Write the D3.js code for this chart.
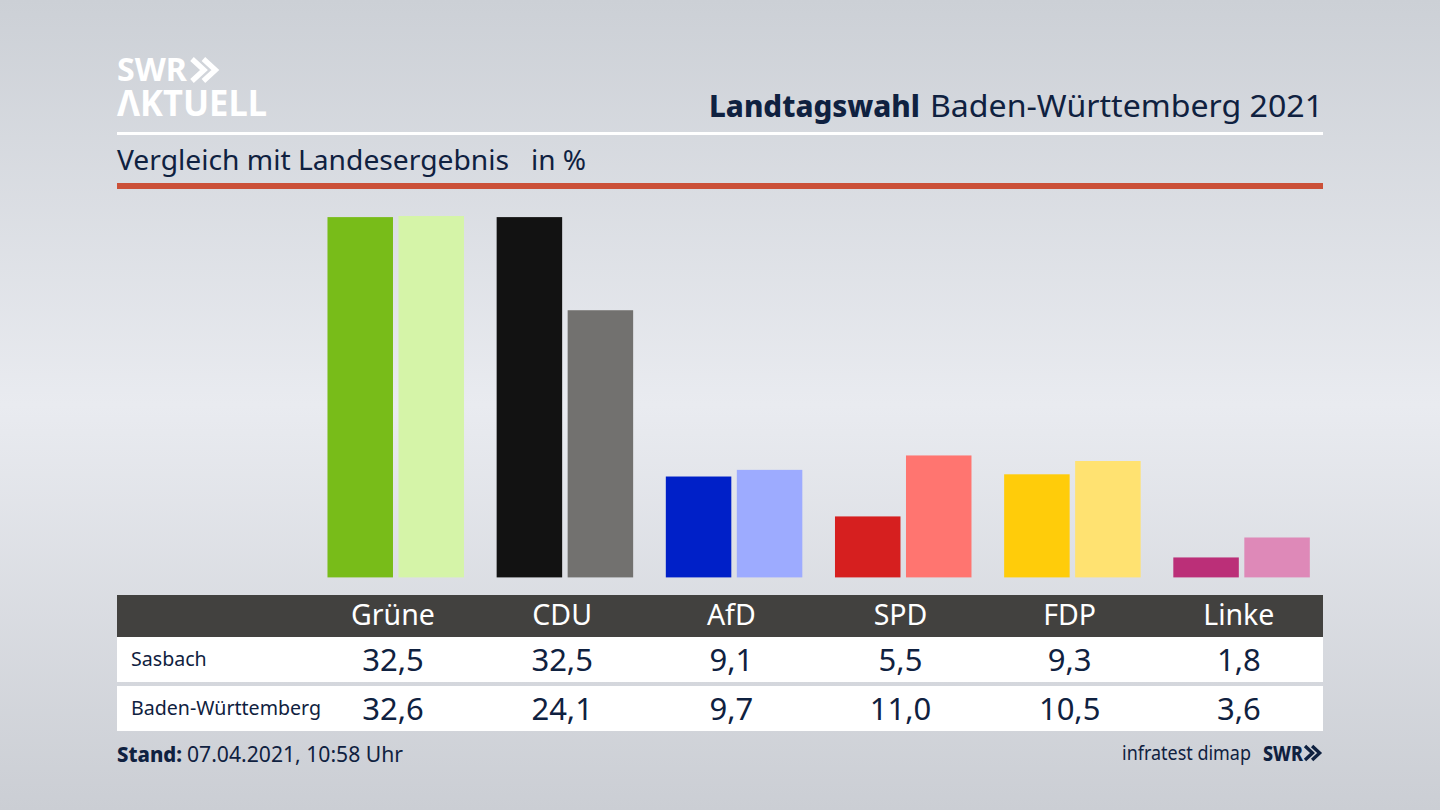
<!DOCTYPE html>
<html>
<head>
<meta charset="utf-8">
<script src="https://cdn.jsdelivr.net/npm/d3@7"></script>
<style>
  html, body { margin: 0; padding: 0; background: #d5d8de; }
  svg { display: block; }
  text { font-family: "Noto Sans", sans-serif; fill: #0f2140; }
</style>
</head>
<body>
<div id="chart"></div>
<script>
const parties = ['Grüne', 'CDU', 'AfD', 'SPD', 'FDP', 'Linke'];
const sasbach = [32.5, 32.5, 9.1, 5.5, 9.3, 1.8];
const land = [32.6, 24.1, 9.7, 11.0, 10.5, 3.6];
const rowNames = ['Sasbach', 'Baden-Württemberg'];
const darkColors = ['#78bc19', '#121212', '#0020c8', '#d61f1f', '#ffcc0a', '#bb2f78'];
const lightColors = ['#d5f4a8', '#72716f', '#9dabff', '#ff7570', '#ffe271', '#de89b8'];

const fmt = v => v.toFixed(1).replace('.', ',');

const svg = d3.select('#chart').append('svg')
  .attr('width', 1440)
  .attr('height', 810);

const grad = svg.append('defs').append('linearGradient')
  .attr('id', 'bg')
  .attr('x1', 0).attr('x2', 0).attr('y1', 0).attr('y2', 1);
grad.append('stop').attr('offset', '0%').attr('stop-color', '#ccd0d6');
grad.append('stop').attr('offset', '50%').attr('stop-color', '#e9ebf0');
grad.append('stop').attr('offset', '100%').attr('stop-color', '#cbced4');

svg.append('rect')
  .attr('width', 1440)
  .attr('height', 810)
  .attr('fill', 'url(#bg)');

// logo
svg.append('text')
  .attr('x', 117).attr('y', 81)
  .style('font-size', '33px').style('font-weight', 700)
  .style('fill', '#fff').attr('textLength', 70).attr('lengthAdjust', 'spacingAndGlyphs')
  .text('SWR');
svg.append('text')
  .attr('x', 117).attr('y', 116)
  .style('font-size', '35px').style('font-weight', 700)
  .style('fill', '#fff').attr('textLength', 150).attr('lengthAdjust', 'spacingAndGlyphs')
  .text('ΛKTUELL');

const chevrons = (x, y, w, h, color) => {
  [0, w * 0.95].forEach(dx => {
    svg.append('path')
      .attr('d', `M${x + dx},${y} L${x + dx + w},${y + h / 2} L${x + dx},${y + h}`)
      .attr('fill', 'none')
      .attr('stroke', color)
      .attr('stroke-width', h * 0.24);
  });
};
chevrons(192, 59, 12, 22, '#fff');

// header
svg.append('text')
  .attr('x', 709).attr('y', 117)
  .style('font-size', '30px').style('font-weight', 800)
  .attr('textLength', 211).attr('lengthAdjust', 'spacingAndGlyphs')
  .text('Landtagswahl');
svg.append('text')
  .attr('x', 930).attr('y', 117)
  .style('font-size', '31px')
  .attr('textLength', 393).attr('lengthAdjust', 'spacingAndGlyphs')
  .text('Baden-Württemberg 2021');

svg.append('rect').attr('x', 117).attr('y', 132).attr('width', 1206).attr('height', 3).attr('fill', '#fff');

svg.append('text')
  .attr('x', 117).attr('y', 170)
  .style('font-size', '28px')
  .attr('textLength', 392).attr('lengthAdjust', 'spacingAndGlyphs')
  .text('Vergleich mit Landesergebnis');
svg.append('text')
  .attr('x', 531).attr('y', 170)
  .style('font-size', '28px')
  .text('in %');

svg.append('rect').attr('x', 117).attr('y', 183).attr('width', 1206).attr('height', 6).attr('fill', '#cb5038');

// table background goes under the party groups
svg.append('rect').attr('x', 117).attr('y', 595).attr('width', 1206).attr('height', 42).attr('fill', '#42413f');
svg.append('rect').attr('x', 117).attr('y', 637).attr('width', 1206).attr('height', 45).attr('fill', '#fff');
svg.append('rect').attr('x', 117).attr('y', 686).attr('width', 1206).attr('height', 45).attr('fill', '#fff');

// bars
const x = d3.scaleBand()
  .domain(parties)
  .range([308.4, 1323.4]);
const y = d3.scaleLinear()
  .domain([0, 32.6])
  .range([577.4, 216]);

const barW = 65.5;
const gap = 5.5;

const groups = svg.selectAll('g.party')
  .data(parties)
  .enter().append('g')
  .attr('class', 'party')
  .attr('transform', d => `translate(${x(d) + x.bandwidth() / 2},0)`);

groups.append('rect')
  .attr('x', -barW)
  .attr('y', (d, i) => y(sasbach[i]))
  .attr('width', barW)
  .attr('height', (d, i) => y(0) - y(sasbach[i]))
  .attr('fill', (d, i) => darkColors[i]);

groups.append('rect')
  .attr('x', gap)
  .attr('y', (d, i) => y(land[i]))
  .attr('width', barW)
  .attr('height', (d, i) => y(0) - y(land[i]))
  .attr('fill', (d, i) => lightColors[i]);

groups.append('text')
  .attr('y', 625)
  .attr('text-anchor', 'middle')
  .style('font-size', '28.5px')
  .style('fill', '#fff')
  .text(d => d);

groups.append('text')
  .attr('y', 671)
  .attr('text-anchor', 'middle')
  .style('font-size', '31px')
  .text((d, i) => fmt(sasbach[i]));

groups.append('text')
  .attr('y', 720)
  .attr('text-anchor', 'middle')
  .style('font-size', '31px')
  .text((d, i) => fmt(land[i]));

svg.selectAll('text.row')
  .data(rowNames)
  .enter().append('text')
  .attr('class', 'row')
  .attr('x', 131)
  .attr('y', (d, i) => 666 + i * 49)
  .style('font-size', '19.6px')
  .text(d => d);

// footer
svg.append('text')
  .attr('x', 117).attr('y', 762)
  .style('font-size', '21px').style('font-weight', 800)
  .attr('textLength', 65).attr('lengthAdjust', 'spacingAndGlyphs')
  .text('Stand:');
svg.append('text')
  .attr('x', 187).attr('y', 762)
  .style('font-size', '21px')
  .attr('textLength', 216).attr('lengthAdjust', 'spacingAndGlyphs')
  .text('07.04.2021, 10:58 Uhr');

svg.append('text')
  .attr('x', 1251).attr('y', 760)
  .attr('text-anchor', 'end')
  .style('font-size', '20px')
  .attr('textLength', 129).attr('lengthAdjust', 'spacingAndGlyphs')
  .text('infratest dimap');

svg.append('text')
  .attr('x', 1263).attr('y', 761)
  .style('font-size', '21px').style('font-weight', 800)
  .attr('textLength', 40).attr('lengthAdjust', 'spacingAndGlyphs')
  .text('SWR');
chevrons(1305, 746, 7.5, 14, '#0f2140');
</script>
</body>
</html>
